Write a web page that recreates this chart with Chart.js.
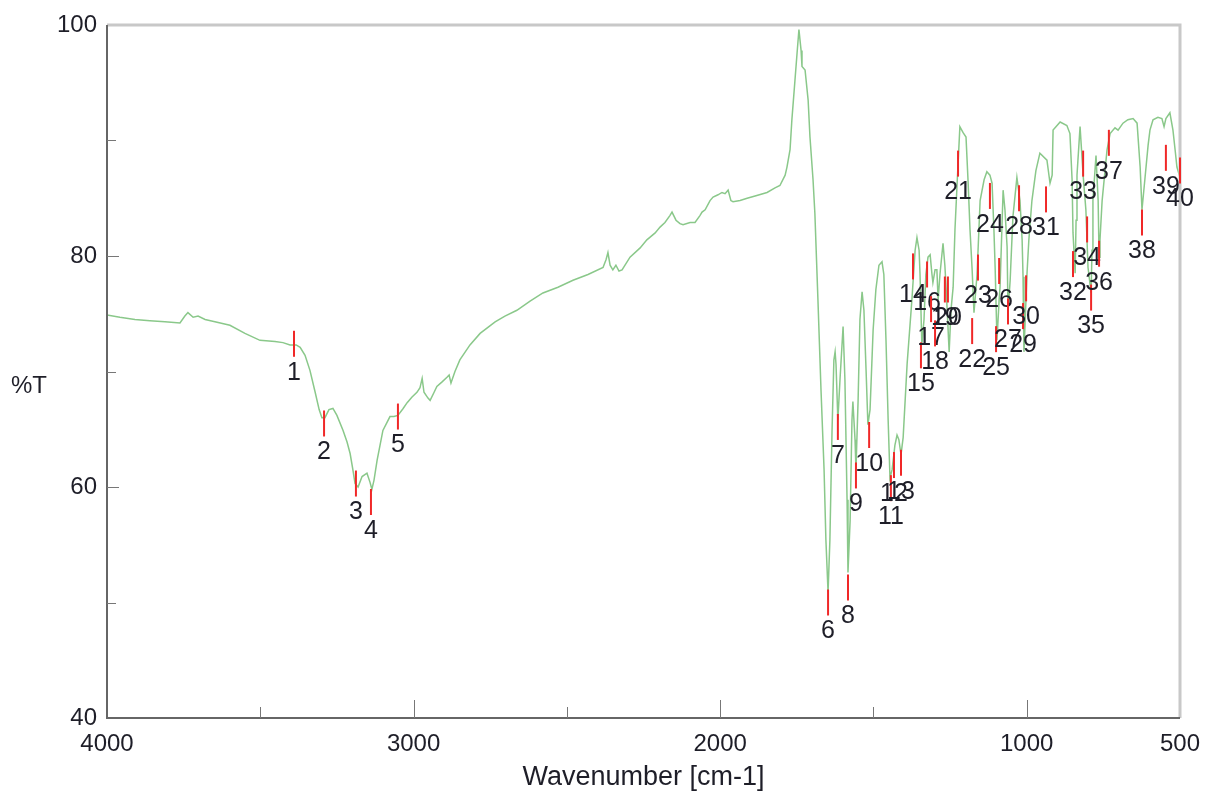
<!DOCTYPE html>
<html>
<head>
<meta charset="utf-8">
<title>IR spectrum</title>
<script src="https://cdn.jsdelivr.net/npm/chart.js@4/dist/chart.umd.min.js"></script>
<style>
  html, body { margin: 0; padding: 0; background: #fff; }
  #chart { display: block; }
</style>
</head>
<body>
<canvas id="chart" width="1205" height="794"></canvas>
<script>
// spectrum trace (cm-1 / %T)
const wavenumbers = [
  4000,3958,3909,3860,3811,3762,3746,3736,3719,3703,
  3680,3648,3599,3550,3501,3452,3426,3403,3383,3370,
  3354,3338,3321,3308,3299,3289,3276,3263,3250,3230,
  3217,3207,3198,3191,3181,3168,3152,3142,3136,3129,
  3119,3100,3077,3064,3051,3034,3021,3005,2989,2979,
  2972,2966,2953,2946,2933,2924,2907,2891,2884,2878,
  2865,2849,2816,2783,2734,2702,2663,2620,2578,2529,
  2480,2431,2382,2372,2366,2359,2350,2340,2330,2320,
  2294,2261,2239,2212,2196,2180,2164,2157,2144,2131,
  2121,2098,2082,2066,2059,2049,2033,2023,2007,1994,
  1984,1974,1965,1958,1935,1912,1886,1847,1821,1805,
  1788,1782,1772,1766,1756,1749,1743,1736,1733,1723,
  1713,1707,1697,1691,1681,1671,1661,1655,1648,1642,
  1635,1629,1625,1622,1616,1609,1599,1593,1586,1583,
  1576,1570,1567,1560,1557,1550,1544,1537,1531,1524,
  1518,1511,1501,1492,1482,1472,1466,1459,1452,1446,
  1439,1430,1423,1417,1410,1403,1390,1374,1364,1358,
  1351,1348,1342,1335,1329,1322,1315,1309,1306,1299,
  1293,1289,1283,1273,1267,1263,1253,1247,1240,1234,
  1227,1218,1208,1198,1191,1185,1178,1172,1162,1152,
  1139,1130,1120,1113,1107,1103,1097,1090,1087,1077,
  1071,1064,1061,1054,1045,1032,1022,1015,1012,1009,
  999,993,983,970,957,934,924,917,914,891,
  869,859,852,849,842,839,836,826,816,807,
  800,790,787,784,774,767,764,761,754,738,
  728,712,702,686,670,653,640,630,624,614,
  604,598,588,572,559,552,546,533,523,516,
  510,500
];
const transmittance = [
  74.9,74.7,74.5,74.4,74.3,74.2,74.8,75.1,74.7,74.8,
  74.5,74.3,74.0,73.3,72.7,72.6,72.5,72.3,72.3,72.1,
  71.4,70.1,68.2,66.7,66.0,66.0,66.7,66.8,66.2,64.9,
  63.9,62.9,61.5,60.3,60.0,60.9,61.2,60.4,59.8,60.6,
  62.3,64.9,66.1,66.1,66.2,66.8,67.3,67.8,68.2,68.6,
  69.4,68.2,67.7,67.5,68.2,68.7,69.1,69.5,69.7,69.0,
  70.0,71.0,72.3,73.3,74.3,74.8,75.3,76.1,76.8,77.3,
  77.9,78.4,79.0,79.7,80.3,79.2,78.8,79.2,78.7,78.8,
  79.9,80.7,81.4,82.0,82.5,82.9,83.5,83.8,83.1,82.8,
  82.7,82.9,82.9,83.5,83.8,84.0,84.8,85.1,85.3,85.5,
  85.4,85.7,84.8,84.7,84.8,85.0,85.2,85.5,85.9,86.1,
  87.0,87.7,89.2,91.8,95.2,97.6,99.6,97.8,96.4,96.1,
  93.5,90.3,86.6,83.7,76.2,68.4,61.5,55.4,50.9,55.4,
  64.9,71.0,71.7,70.6,65.8,69.3,73.9,69.3,58.9,52.6,
  57.1,65.8,67.4,64.1,61.5,67.5,74.5,76.9,75.3,70.1,
  65.4,66.7,73.6,77.1,79.2,79.5,78.4,72.7,65.8,60.8,
  61.5,63.6,64.5,64.1,62.8,64.3,70.7,76.4,80.5,81.6,
  80.5,78.4,72.3,74.5,78.4,79.9,80.1,78.4,77.7,78.8,
  78.8,76.2,78.4,81.1,79.2,77.3,71.7,75.3,77.3,82.3,
  86.3,91.2,90.7,90.3,86.3,82.3,78.8,75.1,78.4,84.8,
  86.6,87.3,87.0,86.3,82.3,79.0,72.7,76.2,77.3,85.7,
  84.0,80.8,75.1,77.9,83.4,86.8,84.8,81.4,78.2,71.7,
  78.5,81.4,84.8,87.4,88.9,88.3,86.3,87.0,90.9,91.6,
  91.3,90.6,86.6,82.0,78.5,83.1,87.0,91.2,87.0,84.0,
  79.0,76.8,80.5,84.8,88.7,84.8,79.9,81.4,84.8,89.2,
  90.6,91.1,90.9,91.5,91.8,91.9,91.5,87.7,84.0,86.8,
  89.6,90.9,91.8,92.0,91.9,91.2,91.9,92.4,90.9,89.2,
  87.7,86.8
];

// picked peaks: number, position and the %T level where the red mark sits
const peakNumbers = [
  1,2,3,4,5,6,7,8,9,10,11,12,13,14,15,16,17,18,19,20,
  21,22,23,24,25,26,27,28,29,30,31,32,33,34,35,36,37,38,39,40
];
const peakWavenumbers = [
  3390,3292,3188,3139,3051,1648,1616,1583,1557,1514,
  1443,1433,1410,1371,1345,1325,1312,1299,1267,1257,
  1224,1178,1159,1120,1100,1090,1061,1025,1012,1002,
  937,849,816,803,790,764,732,624,546,500
];
const peakLevels = [
  72.4,65.5,60.3,58.7,66.1,50.0,65.2,51.3,61.0,64.5,
  59.9,61.9,62.1,79.1,71.4,78.4,75.4,73.3,77.1,77.1,
  88.0,73.5,79.0,85.2,72.8,78.7,75.2,85.0,74.8,77.2,
  84.9,79.3,88.0,82.3,76.4,80.2,89.8,82.9,88.5,87.4
];

const xTickValues = [4000, 3000, 2000, 1000, 500];
const xMinorTicks = [3500, 2500, 1500];
const yTickValues = [40, 60, 80, 100];
const yMinorTicks = [50, 70, 90];

const FONT = '"Liberation Sans", Arial, sans-serif';
Chart.defaults.font.family = FONT;

const points = wavenumbers.map((w, i) => ({ x: w, y: transmittance[i] }));

// frame, inside ticks, peak marks and the %T label
const spectrumDecor = {
  id: 'spectrumDecor',
  afterDatasetsDraw(chart) {
    const { ctx, chartArea: a, scales: { x, y } } = chart;
    ctx.save();

    ctx.strokeStyle = '#c8c8c8';
    ctx.lineWidth = 3;
    ctx.beginPath();
    ctx.moveTo(a.left, a.top);
    ctx.lineTo(a.right, a.top);
    ctx.lineTo(a.right, a.bottom);
    ctx.stroke();

    ctx.strokeStyle = '#666';
    ctx.lineWidth = 2;
    ctx.beginPath();
    ctx.moveTo(a.left, a.top);
    ctx.lineTo(a.left, a.bottom);
    ctx.lineTo(a.right, a.bottom);
    ctx.stroke();

    ctx.lineWidth = 1;
    ctx.strokeStyle = '#777';
    ctx.beginPath();
    xTickValues.slice(1, -1).forEach(v => {
      const px = Math.round(x.getPixelForValue(v)) + 0.5;
      ctx.moveTo(px, a.bottom); ctx.lineTo(px, a.bottom - 18);
    });
    xMinorTicks.forEach(v => {
      const px = Math.round(x.getPixelForValue(v)) + 0.5;
      ctx.moveTo(px, a.bottom); ctx.lineTo(px, a.bottom - 11);
    });
    yTickValues.slice(1, -1).forEach(v => {
      const py = Math.round(y.getPixelForValue(v)) + 0.5;
      ctx.moveTo(a.left, py); ctx.lineTo(a.left + 12, py);
    });
    yMinorTicks.forEach(v => {
      const py = Math.round(y.getPixelForValue(v)) + 0.5;
      ctx.moveTo(a.left, py); ctx.lineTo(a.left + 9, py);
    });
    ctx.stroke();

    ctx.font = '25px ' + FONT;
    ctx.textAlign = 'center';
    ctx.textBaseline = 'middle';
    peakWavenumbers.forEach((w, i) => {
      const px = x.getPixelForValue(w);
      const py = y.getPixelForValue(peakLevels[i]);
      ctx.strokeStyle = 'rgb(240,40,40)';
      ctx.lineWidth = 2;
      ctx.beginPath();
      ctx.moveTo(px, py - 13);
      ctx.lineTo(px, py + 13);
      ctx.stroke();
      ctx.fillStyle = '#1e1e28';
      ctx.fillText(String(peakNumbers[i]), px, py + 29);
    });

    ctx.font = '24px ' + FONT;
    ctx.fillText('%T', 29, 386);
    ctx.restore();
  }
};

new Chart(document.getElementById('chart'), {
  type: 'line',
  data: {
    datasets: [{
      data: points,
      borderColor: 'rgb(138,200,138)',
      borderWidth: 1.5,
      pointRadius: 0,
      tension: 0,
      fill: false
    }]
  },
  options: {
    responsive: false,
    animation: false,
    layout: { padding: { top: 25, right: 25, left: 0, bottom: 0 } },
    plugins: { legend: { display: false }, tooltip: { enabled: false } },
    scales: {
      x: {
        type: 'linear',
        reverse: true,
        min: 500,
        max: 4000,
        afterBuildTicks: s => { s.ticks = xTickValues.map(v => ({ value: v })); },
        afterFit: s => { s.height = 76; s.paddingLeft = 0; s.paddingRight = 0; },
        grid: { display: false, drawTicks: false },
        border: { display: false },
        ticks: {
          color: '#1e1e28', font: { size: 24 }, padding: 12,
          maxRotation: 0, autoSkip: false, callback: v => String(v)
        },
        title: {
          display: true,
          text: 'Wavenumber [cm-1]',
          color: '#1e1e28',
          font: { size: 27 },
          padding: { top: 0, bottom: 0 }
        }
      },
      y: {
        min: 40,
        max: 100,
        afterBuildTicks: s => { s.ticks = yTickValues.map(v => ({ value: v })); },
        afterFit: s => { s.width = 107; s.paddingTop = 0; s.paddingBottom = 0; },
        grid: { display: false, drawTicks: false },
        border: { display: false },
        ticks: { color: '#1e1e28', font: { size: 24 }, padding: 10 }
      }
    }
  },
  plugins: [spectrumDecor]
});
</script>
</body>
</html>
